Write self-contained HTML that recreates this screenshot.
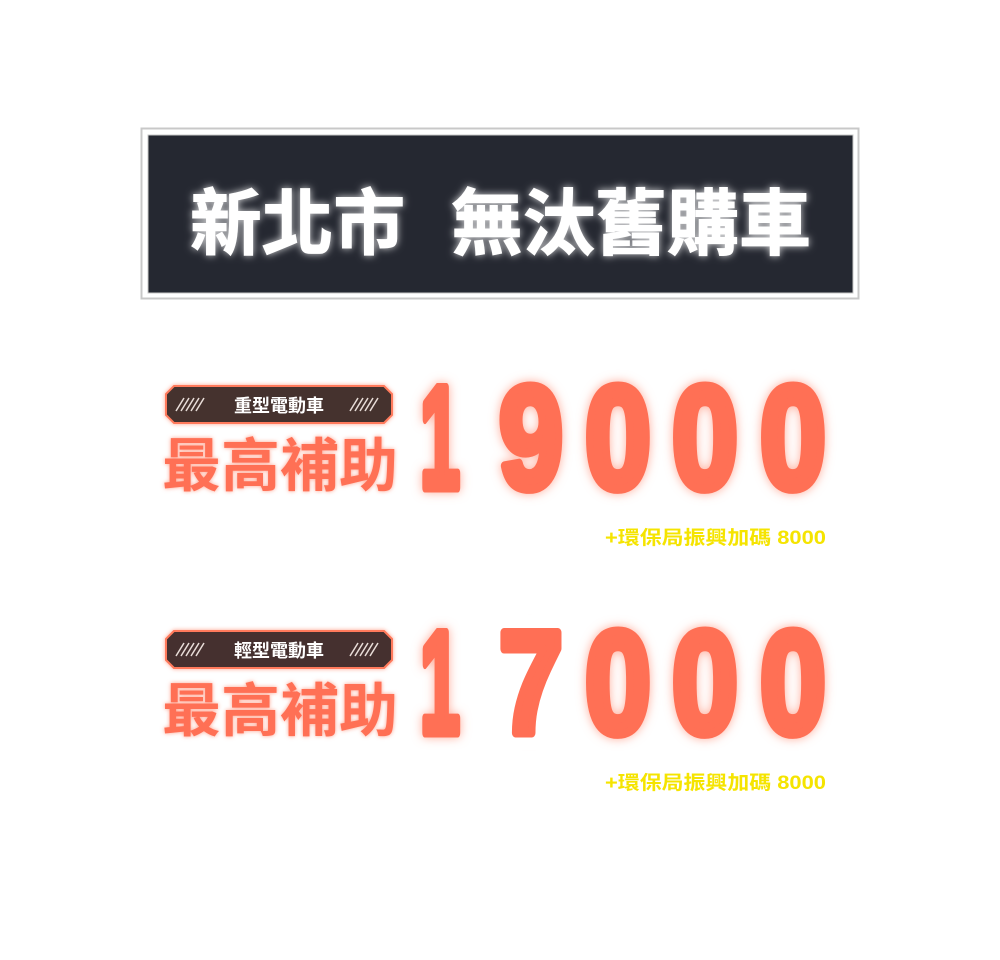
<!DOCTYPE html>
<html><head><meta charset="utf-8"><style>
html,body{margin:0;padding:0;background:#fff;}
body{width:1000px;height:960px;position:relative;overflow:hidden;font-family:"Liberation Sans","Noto Sans CJK TC",sans-serif;}
.abs{position:absolute;}
</style></head><body>
<svg class="abs" style="left:0;top:0" width="1000" height="960" viewBox="0 0 1000 960">
<defs>
<filter id="gw" x="-20%" y="-40%" width="140%" height="180%"><feGaussianBlur stdDeviation="4" result="b"/><feFlood flood-color="#ffffff" flood-opacity="0.8"/><feComposite in2="b" operator="in" result="g"/><feMerge><feMergeNode in="g"/><feMergeNode in="SourceGraphic"/></feMerge></filter>
<filter id="go" x="-20%" y="-30%" width="140%" height="160%"><feGaussianBlur stdDeviation="5" result="b"/><feFlood flood-color="#ff8a70" flood-opacity="0.7"/><feComposite in2="b" operator="in" result="g"/><feMerge><feMergeNode in="g"/><feMergeNode in="SourceGraphic"/></feMerge></filter>
<filter id="gs" x="-20%" y="-50%" width="140%" height="200%"><feGaussianBlur stdDeviation="2" result="b"/><feFlood flood-color="#ff8a70" flood-opacity="0.8"/><feComposite in2="b" operator="in" result="g"/><feMerge><feMergeNode in="g"/><feMergeNode in="SourceGraphic"/></feMerge></filter>
</defs>
<rect x="141.5" y="128.5" width="717" height="170" fill="none" stroke="#c8c8c8" stroke-width="2"/>
<rect x="148" y="135" width="705" height="158" fill="#252831" stroke="#c8c8c8" stroke-width="1"/>
<g font-size="72" font-weight="bold" fill="#fff" filter="url(#gw)" font-family="Liberation Sans,Noto Sans CJK TC,sans-serif" stroke="#fff" stroke-width="1">
<text x="190" y="249" textLength="215" lengthAdjust="spacingAndGlyphs">新北市</text>
<text x="451" y="249" textLength="360" lengthAdjust="spacingAndGlyphs">無汰舊購車</text>
</g>

<g id="blk1">
<polygon points="174,386 384,386 392,394 392,415 384,423 174,423 166,415 166,394" fill="#45302f" stroke="#ff7a5c" stroke-width="2" filter="url(#gs)"/>
<g stroke="#e8ddd8" stroke-width="1.5">
<line x1="176" y1="411" x2="184" y2="398"/><line x1="181" y1="411" x2="189" y2="398"/><line x1="186" y1="411" x2="194" y2="398"/><line x1="191" y1="411" x2="199" y2="398"/><line x1="196" y1="411" x2="204" y2="398"/>
<line x1="350" y1="411" x2="358" y2="398"/><line x1="355" y1="411" x2="363" y2="398"/><line x1="360" y1="411" x2="368" y2="398"/><line x1="365" y1="411" x2="373" y2="398"/><line x1="370" y1="411" x2="378" y2="398"/>
</g>
<text x="279" y="412" text-anchor="middle" font-size="18" font-weight="bold" fill="#fff" font-family="Liberation Sans,Noto Sans CJK TC,sans-serif">重型電動車</text>
<text x="162" y="486" font-size="58" font-weight="bold" fill="#ff6f55" filter="url(#gs)" textLength="236" lengthAdjust="spacingAndGlyphs" font-family="Liberation Sans,Noto Sans CJK TC,sans-serif">最高補助</text>
<g font-size="146" font-weight="bold" fill="#ff6f55" stroke="#ff6f55" stroke-width="9" stroke-linejoin="round" filter="url(#go)" font-family="Liberation Sans,sans-serif">
<text x="420" y="488" textLength="40" lengthAdjust="spacingAndGlyphs">1</text>
<text x="499" y="488" textLength="64" lengthAdjust="spacingAndGlyphs">9</text>
<text x="585" y="488" textLength="66" lengthAdjust="spacingAndGlyphs">0</text>
<text x="672" y="488" textLength="66" lengthAdjust="spacingAndGlyphs">0</text>
<text x="760" y="488" textLength="66" lengthAdjust="spacingAndGlyphs">0</text>
</g>
<text x="605" y="544" font-size="19" font-weight="bold" fill="#f5e400" textLength="221" lengthAdjust="spacingAndGlyphs" font-family="Liberation Sans,Noto Sans CJK TC,sans-serif">+環保局振興加碼 8000</text>
</g>
<use href="#blk1" transform="translate(0,245)"/>
</svg>
<svg class="abs" style="left:0;top:0" width="1000" height="960">
<polygon points="174,631 384,631 392,639 392,660 384,668 174,668 166,660 166,639" fill="#45302f" stroke="#ff7a5c" stroke-width="2"/>
<g stroke="#e8ddd8" stroke-width="1.5">
<line x1="176" y1="656" x2="184" y2="643"/><line x1="181" y1="656" x2="189" y2="643"/><line x1="186" y1="656" x2="194" y2="643"/><line x1="191" y1="656" x2="199" y2="643"/><line x1="196" y1="656" x2="204" y2="643"/>
<line x1="350" y1="656" x2="358" y2="643"/><line x1="355" y1="656" x2="363" y2="643"/><line x1="360" y1="656" x2="368" y2="643"/><line x1="365" y1="656" x2="373" y2="643"/><line x1="370" y1="656" x2="378" y2="643"/>
</g>
<text x="279" y="657" text-anchor="middle" font-size="18" font-weight="bold" fill="#fff" font-family="Liberation Sans,Noto Sans CJK TC,sans-serif">輕型電動車</text>
<rect x="486" y="615" width="88" height="135" fill="#fff"/>
<text x="499" y="733" font-size="146" font-weight="bold" fill="#ff6f55" stroke="#ff6f55" stroke-width="9" stroke-linejoin="round" textLength="64" lengthAdjust="spacingAndGlyphs" font-family="Liberation Sans,sans-serif">7</text>
</svg>
</body></html>
